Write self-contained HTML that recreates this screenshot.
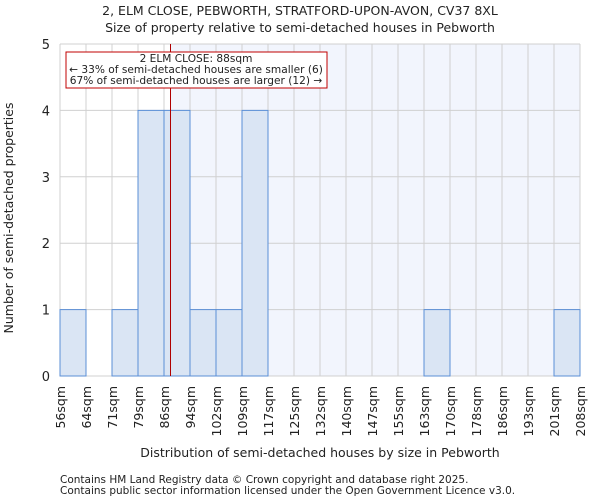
<!DOCTYPE html>
<html><head><meta charset="utf-8"><style>
body{margin:0;background:#fff;font-family:"DejaVu Sans","Liberation Sans",sans-serif;}
svg text{font-family:"DejaVu Sans","Liberation Sans",sans-serif;fill:#222;}
</style></head><body>
<svg id="chart" width="600" height="500" xmlns="http://www.w3.org/2000/svg">
<text x="300" y="15" font-size="12.5" text-anchor="middle">2, ELM CLOSE, PEBWORTH, STRATFORD-UPON-AVON, CV37 8XL</text>
<text x="300" y="32" font-size="12.5" text-anchor="middle">Size of property relative to semi-detached houses in Pebworth</text>
<g id="plot"></g>
<text x="320" y="457" font-size="12.5" text-anchor="middle">Distribution of semi-detached houses by size in Pebworth</text>
<text transform="translate(13,218) rotate(-90)" font-size="12.5" text-anchor="middle">Number of semi-detached properties</text>
<text x="60" y="483" font-size="10.5">Contains HM Land Registry data © Crown copyright and database right 2025.</text>
<text x="60" y="494" font-size="10.5">Contains public sector information licensed under the Open Government Licence v3.0.</text>
</svg>
<script>
const binLabels=["56sqm","64sqm","71sqm","79sqm","86sqm","94sqm","102sqm","109sqm","117sqm","125sqm","132sqm","140sqm","147sqm","155sqm","163sqm","170sqm","178sqm","186sqm","193sqm","201sqm","208sqm"];
const binEdges=[56,64,71,79,86,94,102,109,117,125,132,140,147,155,163,170,178,186,193,201,208];
const counts=[1,0,1,4,4,1,1,4,0,0,0,0,0,0,1,0,0,0,0,1];
const yTicks=[0,1,2,3,4,5];
const propertySize=88;
const L=60,R=580,T=44,B=376,yMax=5,n=counts.length;
const xi=i=>L+i*(R-L)/n;
const xv=v=>{let i=0;while(i<n-1&&v>binEdges[i+1])i++;return xi(i)+(v-binEdges[i])/(binEdges[i+1]-binEdges[i])*(R-L)/n;};
const y=v=>B-v*(B-T)/yMax;
const g=document.getElementById('plot');const NS="http://www.w3.org/2000/svg";
function mk(t,a){const e=document.createElementNS(NS,t);for(const k in a)e.setAttribute(k,a[k]);g.appendChild(e);return e;}
const px=xv(propertySize);
let bg=mk('rect',{x:px,y:T,width:R-px,height:B-T,fill:'#f2f5fd'});


for(let i=0;i<=n;i++){let l=mk('line',{x1:xi(i),x2:xi(i),y1:T,y2:B,stroke:'#d0d0d0','stroke-width':1});

}
yTicks.forEach(t=>{let l=mk('line',{x1:L,x2:R,y1:y(t),y2:y(t),stroke:'#d0d0d0','stroke-width':1});


let tx=mk('text',{x:L-10,y:y(t)+5,'font-size':13,'text-anchor':'end'});tx.textContent=t;

});
counts.forEach((c,i)=>{if(c>0){let r=mk('rect',{x:xi(i),y:y(c),width:xi(i+1)-xi(i),height:y(0)-y(c),fill:'#dae5f4',stroke:'#5b8fd6','stroke-width':1});

}});
binLabels.forEach((s,i)=>{let tx=mk('text',{transform:`translate(${xi(i)+5},386) rotate(-90)`,'font-size':12.5,'text-anchor':'end'});tx.textContent=s;

});
let ml=mk('line',{x1:px,x2:px,y1:T,y2:B,stroke:'#b00000','stroke-width':1});


let box=mk('rect',{x:66,y:52,width:261,height:36,fill:'#fff',stroke:'#c00000','stroke-width':1});


[["2 ELM CLOSE: 88sqm",62],["← 33% of semi-detached houses are smaller (6)",73],["67% of semi-detached houses are larger (12) →",84]].forEach(([s,yy])=>{let tx=mk('text',{x:196,y:yy,'font-size':10.6,'text-anchor':'middle'});tx.textContent=s;

});
</script>
</body></html>
